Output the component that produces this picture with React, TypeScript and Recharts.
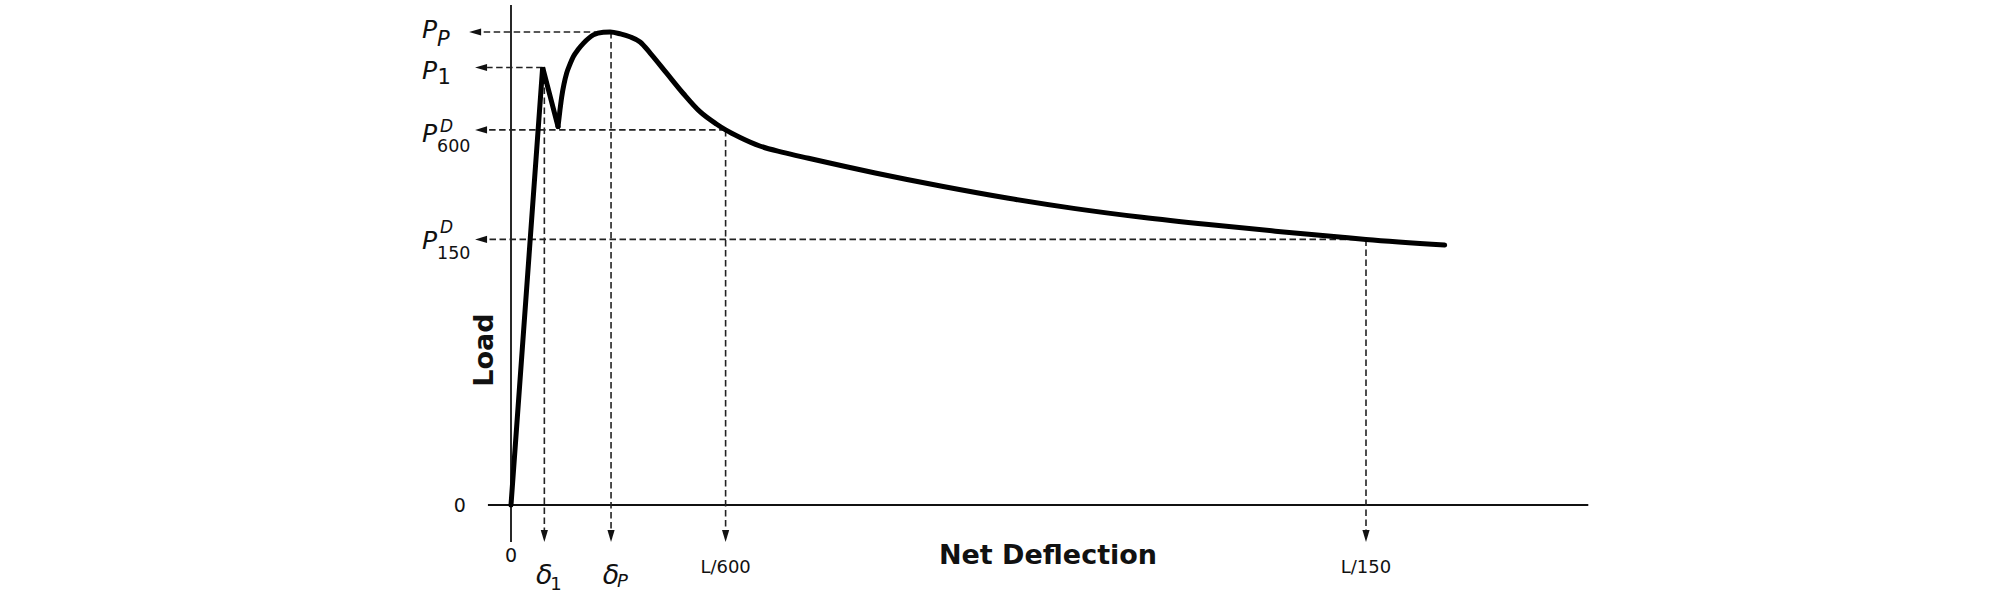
import React from 'react';
import { Label, Line, LineChart, ReferenceLine, XAxis, YAxis } from 'recharts';

// Load vs net deflection, arbitrary units (x: L/150 = 100, y: P_P = 100)
const riseX = [0, 3.7, 5.5];
const riseY = [0, 92.5, 80];
const curveX = [5.5, 5.72, 5.93, 6.2, 6.51, 6.9, 7.29, 7.85, 8.46, 9.63, 10.8, 11.6, 12.8, 13.9, 15.1, 16.3, 18.2, 20.15, 22.1, 24.06, 25.1, 26.8, 29.1, 31.8, 34.8, 42.6, 50.4, 58.2, 66, 73.8, 81.6, 89.4, 97.2, 100, 109.2];
const curveY = [80, 83.4, 86.3, 89, 91.3, 93.2, 94.8, 96.3, 97.6, 99.4, 99.95, 100, 99.6, 99, 97.9, 95.5, 91.3, 87, 83.15, 80.5, 79.3, 77.7, 75.9, 74.55, 73.3, 70.19, 67.38, 64.84, 62.66, 60.82, 59.28, 57.9, 56.6, 56.15, 54.95];

// characteristic points: P_P, P_1, P600, P150
const loadLevels = [100, 92.5, 79.3, 56.15];
const loadAtX = [11.6, 3.7, 25.1, 100];
const loadArrowTip = [-4.9, -4.2, -4.2, -4.2];

// deflection markers: delta_1, delta_P, L/600, L/150
const deflX = [3.9, 11.7, 25.1, 100];
const deflFromY = [92.5, 100, 79.3, 56.15];
const deflArrowTip = -7.8;

const xTicks = [0, 3.9, 11.7, 25.1, 100];
const yTicks = [0, 56.15, 79.3, 92.5, 100];

const X_DOMAIN = [-6, 140];
const Y_DOMAIN = [-14, 104];
const xAxisSpan = [-2.7, 126];
const yAxisSpan = [-7.8, 105.7];

const riseData = riseX.map((x, i) => ({ x, y: riseY[i] }));
const curveData = curveX.map((x, i) => ({ x, y: curveY[i] }));

const FONT = '"DejaVu Sans", Verdana, sans-serif';
const INK = '#111';

function ArrowLine(props: any) {
	const { x1, y1, x2, y2 } = props;
	const dx = x2 - x1;
	const dy = y2 - y1;
	const len = Math.hypot(dx, dy) || 1;
	const ux = dx / len;
	const uy = dy / len;
	const head = 12;
	const half = 3.6;
	const bx = x2 - ux * head;
	const by = y2 - uy * head;
	const pts = `${x2},${y2} ${bx - uy * half},${by + ux * half} ${bx + uy * half},${by - ux * half}`;
	return (
		<g>
			<line x1={x1} y1={y1} x2={bx} y2={by} stroke="#222" strokeWidth={1.6} strokeDasharray="6.5 3.5" />
			<polygon points={pts} fill={INK} />
		</g>
	);
}

function XTick(props: any) {
	const { x, y, payload } = props;
	const i = xTicks.indexOf(payload.value);
	const t = { fontFamily: FONT, fill: INK };
	if (i === 0)
		return (
			<text x={x} y={y - 9.5} textAnchor="middle" fontSize={19} {...t}>
				0
			</text>
		);
	if (i === 1 || i === 2)
		return (
			<g>
				<text x={x} y={y + 13} textAnchor="middle" fontSize={27} fontStyle="italic" {...t}>
					δ
				</text>
				<text x={x + 6} y={i === 1 ? y + 19 : y + 16} fontSize={18} fontStyle={i === 2 ? 'italic' : 'normal'} {...t}>
					{i === 1 ? '1' : 'P'}
				</text>
			</g>
		);
	return (
		<text x={x} y={y + 2} textAnchor="middle" fontSize={18} {...t}>
			{i === 3 ? 'L/600' : 'L/150'}
		</text>
	);
}

function YTick(props: any) {
	const { x, y, payload } = props;
	const i = yTicks.indexOf(payload.value);
	const t = { fontFamily: FONT, fill: INK };
	const px = x - 37.7;
	if (i === 0)
		return (
			<text x={x} y={y + 7} textAnchor="middle" fontSize={19} {...t}>
				0
			</text>
		);
	const mainP = (dy: number) => (
		<text x={px} y={y + dy} fontSize={25} fontStyle="italic" {...t}>
			P
		</text>
	);
	if (i === 4)
		return (
			<g>
				{mainP(5.5)}
				<text x={px + 15} y={y + 13.5} fontSize={21} fontStyle="italic" {...t}>
					P
				</text>
			</g>
		);
	if (i === 3)
		return (
			<g>
				{mainP(11.5)}
				<text x={px + 15.5} y={y + 16.5} fontSize={21} {...t}>
					1
				</text>
			</g>
		);
	const supDy = i === 2 ? 1.7 : -6.7;
	const subDy = i === 2 ? 21.7 : 20;
	return (
		<g>
			{mainP(i === 2 ? 11.7 : 10)}
			<text x={px + 18} y={y + supDy} fontSize={17} fontStyle="italic" {...t}>
				D
			</text>
			<text x={px + 15} y={y + subDy} fontSize={17.5} {...t}>
				{i === 2 ? '600' : '150'}
			</text>
		</g>
	);
}

export default function App() {
	return (
		<div>
			<style>{'body{margin:0;overflow:hidden;background:#fff}'}</style>
			<LineChart width={2008} height={594} margin={{ top: 13.1, right: 300, bottom: 12.8, left: 399.7 }}>
				<XAxis
					type="number"
					dataKey="x"
					domain={X_DOMAIN}
					ticks={xTicks}
					interval={0}
					allowDataOverflow
					height={10}
					axisLine={false}
					tickLine={false}
					tickSize={0}
					tickMargin={0}
					tick={(p: any) => <XTick {...p} />}
				>
					<Label
						content={() => (
							<text x={1048} y={564} textAnchor="middle" fontSize={27} fontWeight="bold" fontFamily={FONT} fill={INK}>
								Net Deflection
							</text>
						)}
					/>
				</XAxis>
				<YAxis
					type="number"
					domain={Y_DOMAIN}
					ticks={yTicks}
					interval={0}
					allowDataOverflow
					width={60}
					axisLine={false}
					tickLine={false}
					tickSize={0}
					tickMargin={0}
					tick={(p: any) => <YTick {...p} />}
				>
					<Label
						content={() => (
							<text
								x={483}
								y={350}
								textAnchor="middle"
								dominantBaseline="central"
								transform="rotate(-90, 483, 350)"
								fontSize={27}
								fontWeight="bold"
								fontFamily={FONT}
								fill={INK}
							>
								Load
							</text>
						)}
					/>
				</YAxis>

				{/* axes drawn as crossing lines */}
				<ReferenceLine
					segment={[{ x: xAxisSpan[0], y: 0 }, { x: xAxisSpan[1], y: 0 }]}
					stroke={INK}
					strokeWidth={1.8}
					ifOverflow="visible"
				/>
				<ReferenceLine
					segment={[{ x: 0, y: yAxisSpan[0] }, { x: 0, y: yAxisSpan[1] }]}
					stroke={INK}
					strokeWidth={1.8}
					ifOverflow="visible"
				/>

				{loadLevels.map((lv, i) => (
					<ReferenceLine
						key={`h${i}`}
						segment={[{ x: loadAtX[i], y: lv }, { x: loadArrowTip[i], y: lv }]}
						ifOverflow="visible"
						shape={(p: any) => <ArrowLine {...p} />}
					/>
				))}
				{deflX.map((dx, i) => (
					<ReferenceLine
						key={`v${i}`}
						segment={[{ x: dx, y: deflFromY[i] }, { x: dx, y: deflArrowTip }]}
						ifOverflow="visible"
						shape={(p: any) => <ArrowLine {...p} />}
					/>
				))}

				<Line
					data={riseData}
					dataKey="y"
					type="linear"
					stroke="#000"
					strokeWidth={5}
					strokeLinecap="round"
					dot={false}
					activeDot={false}
					isAnimationActive={false}
				/>
				<Line
					data={curveData}
					dataKey="y"
					type="monotone"
					stroke="#000"
					strokeWidth={5}
					strokeLinecap="round"
					dot={false}
					activeDot={false}
					isAnimationActive={false}
				/>
			</LineChart>
		</div>
	);
}
